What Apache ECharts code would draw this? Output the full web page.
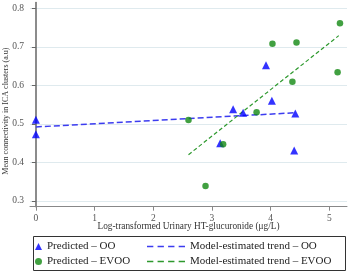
<!DOCTYPE html>
<html>
<head>
<meta charset="utf-8">
<script src="https://cdn.jsdelivr.net/npm/echarts@6/dist/echarts.min.js"></script>
<style>html,body{margin:0;padding:0;background:#fff;}#c{width:348px;height:273px;}</style>
</head>
<body>
<div id="c"></div>
<script>
var xTicks = [0, 1, 2, 3, 4, 5];
var yTicks = [0.3, 0.4, 0.5, 0.6, 0.7, 0.8];
var predictedOO = [[0, 0.511], [0, 0.473], [3.14, 0.450], [3.36, 0.538], [3.53, 0.529], [3.92, 0.652], [4.02, 0.560], [4.42, 0.527], [4.40, 0.431]];
var predictedEVOO = [[2.60, 0.510], [2.89, 0.339], [3.19, 0.447], [3.76, 0.530], [4.03, 0.708], [4.44, 0.711], [4.37, 0.609], [5.14, 0.634], [5.18, 0.761]];
var trendOO = [[0, 0.492], [4.43, 0.529]];
var trendEVOO = [[2.60, 0.420], [5.16, 0.729]];
var names = ['Predicted – OO', 'Predicted – EVOO', 'Model-estimated trend – OO', 'Model-estimated trend – EVOO'];

var serif = '"Liberation Serif", "DejaVu Serif", serif';
var dashIcon = 'path://M0,0h6v1.6h-6zM10,0h6v1.6h-6zM20,0h6v1.6h-6zM30,0h6v1.6h-6z';
var chart = echarts.init(document.getElementById('c'));
chart.setOption({
  animation: false,
  backgroundColor: '#fff',
  grid: { left: 30, right: 1, top: 2.5, bottom: 66.3, containLabel: false, outerBoundsMode: 'none' },
  xAxis: {
    type: 'value', min: -0.1, max: 5.3,
    name: 'Log-transformed Urinary HT-glucuronide (μg/L)',
    nameLocation: 'middle', nameGap: 15, nameMoveOverlap: false,
    nameTextStyle: { fontFamily: serif, fontSize: 9.3, color: '#333' },
    axisLine: { show: true, lineStyle: { color: '#888', width: 1 } },
    axisTick: { show: true, length: 4, lineStyle: { color: '#888' }, customValues: xTicks },
    axisLabel: { fontFamily: serif, fontSize: 9.5, color: '#555', margin: 7, customValues: xTicks },
    splitLine: { show: false }
  },
  yAxis: {
    type: 'value', min: 0.285, max: 0.815,
    name: 'Mean connectivity in ICA clusters (a.u)',
    nameLocation: 'middle', nameGap: 20, nameMoveOverlap: false,
    nameTextStyle: { fontFamily: serif, fontSize: 8, color: '#333', padding: [0, 13, 0, 0] },
    axisLine: { show: true, lineStyle: { color: '#666', width: 1.5 } },
    axisTick: { show: true, length: 4, lineStyle: { color: '#666' }, customValues: yTicks },
    axisLabel: { fontFamily: serif, fontSize: 9.5, color: '#555', margin: 6, customValues: yTicks,
      formatter: function (v) { return v.toFixed(1); } },
    splitLine: { show: true, lineStyle: { color: '#dfeaee', width: 1 } }
  },
  graphic: [{
    type: 'rect', left: 33, top: 236, z: 0,
    shape: { width: 312, height: 34 },
    style: { fill: '#fff', stroke: '#333', lineWidth: 1 }
  }],
  legend: [{
    data: [names[0], names[1]], orient: 'vertical', left: 35, top: 240.5, padding: 0,
    itemWidth: 7, itemHeight: 7, itemGap: 3, z: 5,
    textStyle: { fontFamily: serif, fontSize: 11, color: '#222', lineHeight: 12 }
  }, {
    data: [
      { name: names[2], icon: dashIcon },
      { name: names[3], icon: dashIcon }
    ],
    orient: 'vertical', left: 147, top: 240.5, padding: 0,
    itemWidth: 38, itemHeight: 2, itemGap: 3, z: 5,
    textStyle: { fontFamily: serif, fontSize: 11, color: '#222', lineHeight: 12 }
  }],
  series: [{
    name: names[0], type: 'scatter', data: predictedOO,
    symbol: 'triangle', symbolSize: 8, itemStyle: { color: '#0000ff' }, z: 4
  }, {
    name: names[1], type: 'scatter', data: predictedEVOO,
    symbol: 'circle', symbolSize: 6.5, itemStyle: { color: '#118811' }, z: 4
  }, {
    name: names[2], type: 'line', data: trendOO, showSymbol: false, symbol: 'none',
    itemStyle: { color: '#3c3cf0' },
    lineStyle: { color: '#3c3cf0', width: 1.5, type: [6, 3] }, z: 3
  }, {
    name: names[3], type: 'line', data: trendEVOO, showSymbol: false, symbol: 'none',
    itemStyle: { color: '#2e992e' },
    lineStyle: { color: '#2e992e', width: 1.2, type: [4, 2.5] }, z: 3
  }]
});
</script>
</body>
</html>
